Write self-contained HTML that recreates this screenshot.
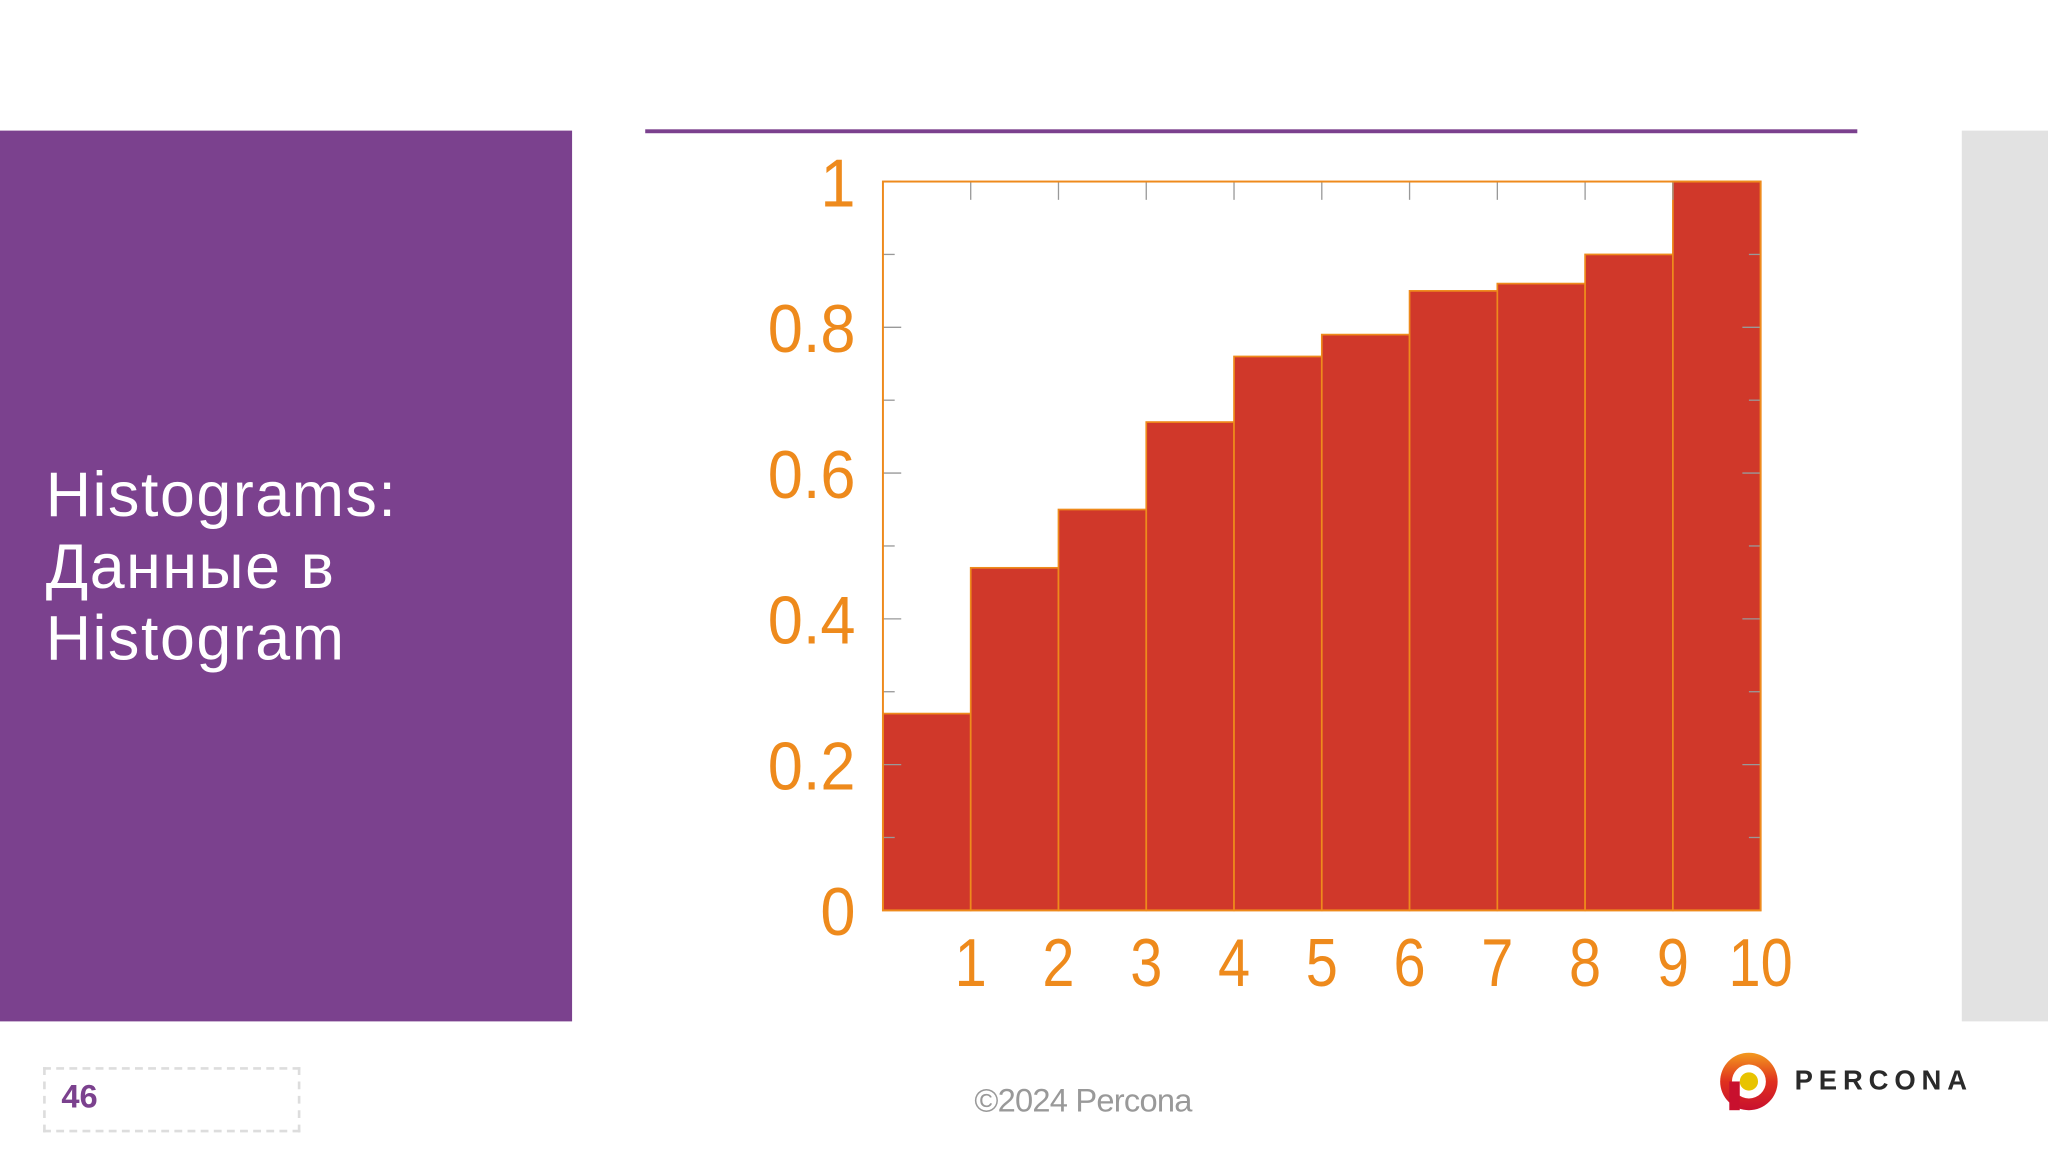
<!DOCTYPE html>
<html><head><meta charset="utf-8">
<style>
html,body{margin:0;padding:0;background:#fff;width:2048px;height:1152px;overflow:hidden}
#stage{position:absolute;left:0;top:0;width:1568px;height:882px;transform:scale(1.306122);transform-origin:0 0;font-family:"Liberation Sans","Noto Sans CJK SC",sans-serif}
.abs{position:absolute}
</style></head>
<body>
<div id="stage">
  <div class="abs" style="left:0;top:100px;width:438px;height:682px;background:#7b418e"></div>
  <div class="abs" style="left:35px;top:352px;color:#fff;font-size:48px;line-height:55px;letter-spacing:1.2px">Histograms:<br>Данные в<br>Histogram</div>
  <div class="abs" style="left:494px;top:99px;width:928px;height:3px;background:#7b418e"></div>
  <div class="abs" style="left:1502px;top:100px;width:66px;height:682px;background:#e2e2e2"></div>
  <svg class="abs" style="left:0;top:0" width="1568" height="882" id="chart"></svg>
  <div class="abs" style="left:33px;top:817px;width:193px;height:46px;border:2px dashed #ddd"></div>
  <div class="abs" style="left:47px;top:826px;color:#7b418e;font-weight:bold;font-size:25px">46</div>
  <div class="abs" style="left:746px;top:829px;color:#999;font-size:25px;letter-spacing:-0.6px">©2024 Percona</div>
  <svg class="abs" style="left:1316px;top:805px" width="46" height="46">
    <defs><linearGradient id="lg" x1="0" y1="0" x2="0" y2="1"><stop offset="0" stop-color="#f39a1e"/><stop offset="0.5" stop-color="#e0301e"/><stop offset="1" stop-color="#c8102e"/></linearGradient></defs>
    <circle cx="23" cy="23" r="22" fill="url(#lg)"/>
    <circle cx="23" cy="23" r="13" fill="#fff"/>
    <circle cx="23" cy="23" r="7" fill="#e8c300"/>
    <rect x="8" y="23" width="8" height="22" fill="#c8102e"/>
  </svg>
  <div class="abs" style="left:1374px;top:816px;color:#2a2a2a;font-weight:bold;font-size:21px;letter-spacing:4.5px">PERCONA</div>
</div>
<script>
const binLabels = [1,2,3,4,5,6,7,8,9,10];
const values = [0.27,0.47,0.55,0.67,0.76,0.79,0.85,0.86,0.90,1.0];
const yTicks = [0,0.2,0.4,0.6,0.8,1];
const yTickLabels = ["0","0.2","0.4","0.6","0.8","1"];

const svg = document.getElementById('chart');
const NS = 'http://www.w3.org/2000/svg';
const L=676,R=1348,T=139,B=697;
const xs = v => L + (R-L)*v/10;
const ys = v => B - (B-T)*v;
function mk(tag, attrs){const e=document.createElementNS(NS,tag);for(const k in attrs)e.setAttribute(k,attrs[k]);svg.appendChild(e);return e;}

values.forEach((v,i)=>{
  const r = mk('rect',{x:xs(i),y:ys(v),width:xs(i+1)-xs(i),height:B-ys(v),fill:'#d0382a',stroke:'#ee8a1c','stroke-width':1.3});
  
  
});
for(let k=0;k<=10;k++){
  const y=ys(k/10), len = k%2===0?14:9;
  const t1 = mk('line',{x1:L,x2:L+len,y1:y,y2:y,stroke:'#999','stroke-width':1});
  
  
  const t2 = mk('line',{x1:R,x2:R-len,y1:y,y2:y,stroke:'#999','stroke-width':1});
  
  
}
binLabels.forEach((b,i)=>{
  const x = xs(b);
  const t = mk('line',{x1:x,x2:x,y1:T,y2:T+14,stroke:'#999','stroke-width':1});
  
  
  const tx = mk('text',{x:x,y:755,'text-anchor':'middle',fill:'#ee8a1c','font-size':52,'font-family':'Liberation Sans, sans-serif',transform:`translate(${x},0) scale(0.85,1) translate(${-x},0)`});
  tx.textContent = b;
  
  
});
yTicks.forEach((v,i)=>{
  const y = ys(v)+19;
  const tx = mk('text',{x:655,y:y,'text-anchor':'end',fill:'#ee8a1c','font-size':52,'font-family':'Liberation Sans, sans-serif',transform:`translate(655,0) scale(0.93,1) translate(-655,0)`});
  tx.textContent = yTickLabels[i];
  
  
});
const frame = mk('rect',{x:L,y:T,width:R-L,height:B-T,fill:'none',stroke:'#ee8a1c','stroke-width':1.5});


</script>
</body></html>
